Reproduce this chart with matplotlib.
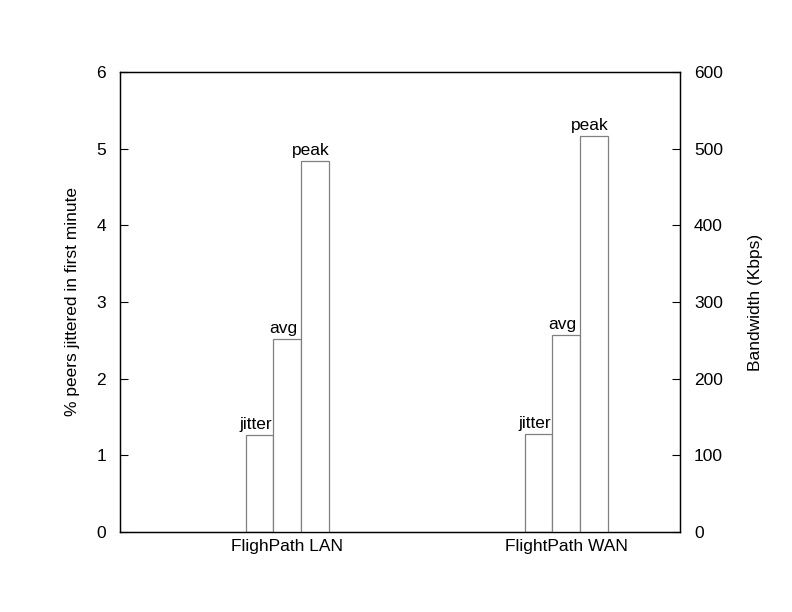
import numpy as np
import matplotlib.pyplot as plt

plt.rcParams['font.family'] = ['Liberation Sans', 'DejaVu Sans']

# data
groups = ["FlighPath LAN", "FlightPath WAN"]
jitter_pct = [1.27, 1.28]          # % peers jittered (left axis)
avg_kbps = [252, 257]              # bandwidth (right axis)
peak_kbps = [484, 517]
bar_names = ["jitter", "avg", "peak"]

fig = plt.figure(figsize=(7.92, 6.12), dpi=100)
ax = fig.add_axes([120/792, 1-532/612, 560/792, 460/612])
ax2 = ax.twinx()

x = np.arange(len(groups))
w = 0.1
edge = "#808080"
fs = 12.5

b1 = ax.bar(x - 1.5 * w, jitter_pct, w, align="edge", facecolor="white", edgecolor=edge, linewidth=0.9)
b2 = ax2.bar(x - 0.5 * w, avg_kbps, w, align="edge", facecolor="white", edgecolor=edge, linewidth=0.9)
b3 = ax2.bar(x + 0.5 * w, peak_kbps, w, align="edge", facecolor="white", edgecolor=edge, linewidth=0.9)

ax.set_xlim(-0.6, 1.407)
ax.set_ylim(0, 6)
ax2.set_ylim(0, 600)

# labels above bars
for a, bars, name in [(ax, b1, bar_names[0]), (ax2, b2, bar_names[1]), (ax2, b3, bar_names[2])]:
    for r in bars:
        a.annotate(name, (r.get_x() + r.get_width() / 2, r.get_height()),
                   xytext=(-3, 2), textcoords="offset points",
                   ha="center", va="bottom", fontsize=fs)

ax.set_xticks(x)
ax.set_xticklabels(groups, fontsize=fs)
ax.tick_params(axis="x", length=0, pad=5)
ax.set_yticks(range(0, 7))
ax.tick_params(axis="y", direction="in", length=6, labelsize=fs, pad=10)
ax2.set_yticks(range(0, 601, 100))
ax2.tick_params(axis="y", direction="in", length=6, labelsize=fs, pad=10)

ax.set_ylabel("% peers jittered in first minute", fontsize=fs, labelpad=12)
ax2.set_ylabel("Bandwidth (Kbps)", fontsize=fs, labelpad=18)

for a in (ax, ax2):
    for s in a.spines.values():
        s.set_linewidth(0.9)

fig.savefig("out.png", dpi=100)
